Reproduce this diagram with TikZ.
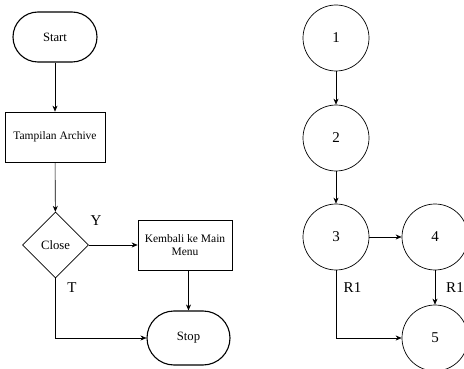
\documentclass[tikz,border=0pt]{standalone}
\usepackage{fontspec}
\setmainfont{Liberation Serif}
\usetikzlibrary{shapes.geometric,arrows.meta}
\begin{document}
\begin{tikzpicture}[x=1pt,y=-1pt,
  term/.style={draw,line width=1.1pt,rounded corners=25pt,minimum width=84pt,minimum height=50pt,inner sep=0pt,font=\fontsize{12.7}{14}\selectfont},
  procbox/.style={draw,line width=0.7pt,minimum height=50pt,inner sep=2pt,align=center,font=\fontsize{11.5}{13.5}\selectfont},
  decis/.style={draw,line width=0.7pt,diamond,minimum width=66pt,minimum height=66pt,inner sep=0pt,font=\fontsize{12.7}{14}\selectfont},
  pnode/.style={draw,line width=0.7pt,circle,minimum size=66pt,inner sep=0pt,font=\fontsize{15}{17}\selectfont},
  lbl/.style={font=\fontsize{15}{17}\selectfont,inner sep=0pt},
  arr/.style={line width=0.6pt,-{Stealth[length=6pt,width=5pt]}}]
\useasboundingbox (0,0) rectangle (464,369);
% left flowchart
\node[term] (start) at (55,37) {Start};
\node[procbox,minimum width=100pt] (tamp) at (55,137) {Tampilan Archive};
\node[decis] (close) at (55.5,245) {Close};
\node[procbox,minimum width=94pt] (kemb) at (185,245) {Kembali ke Main\\Menu};
\node[term,minimum width=83pt,minimum height=54pt,rounded corners=27pt] (stop) at (188.5,338) {Stop};
\coordinate (cT) at (55.5,338);
\draw[arr] (start) -- (tamp);
\draw[arr] (tamp) -- (close);
\draw[arr] (close) -- (kemb);
\draw[arr] (kemb.south -| stop) -- (stop);
\draw[arr] (close.south) -- (cT) -- (stop.west);
\node[lbl] (ly) at (96,221) {Y};
\node[lbl] (lt) at (72,288) {T};
% right flow graph
\node[pnode] (n1) at (336,38) {1};
\node[pnode] (n2) at (336,138) {2};
\node[pnode] (n3) at (336,237) {3};
\node[pnode] (n4) at (435,237) {4};
\node[pnode] (n5) at (435,338) {5};
\coordinate (c3) at (336,338);
\draw[arr] (n1) -- (n2);
\draw[arr] (n2) -- (n3);
\draw[arr] (n3) -- (n4);
\draw[arr] (n4) -- (n5);
\draw[arr] (n3.south) -- (c3) -- (n5.west);
\node[lbl] (r1a) at (352.5,288) {R1};
\node[lbl] (r1b) at (455,288) {R1};
\end{tikzpicture}
\end{document}
